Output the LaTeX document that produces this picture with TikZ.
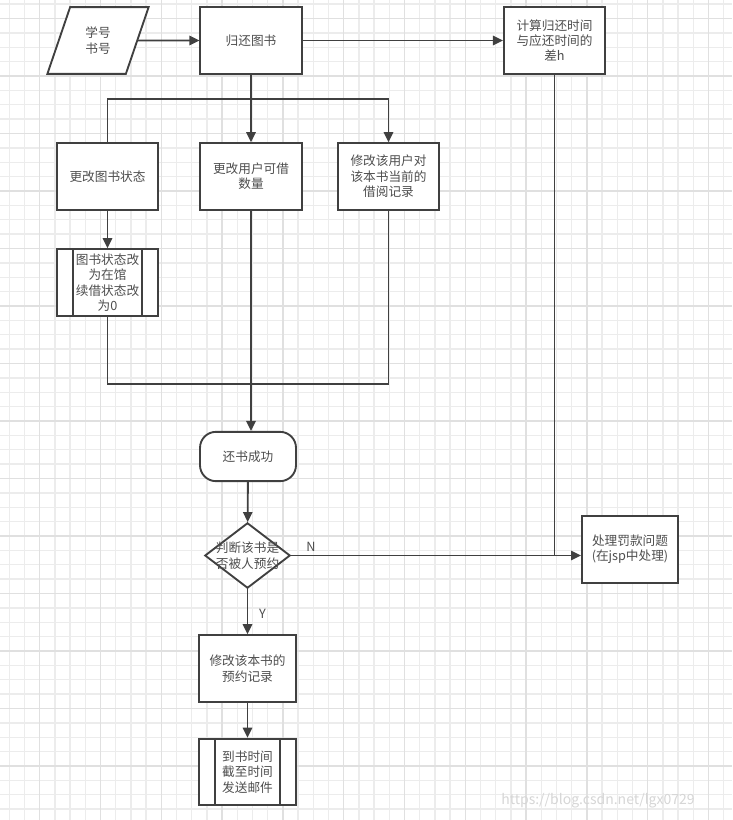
\documentclass[tikz,border=0pt]{standalone}
\usepackage{fontspec}
\setsansfont{Noto Sans CJK SC}
\usepackage{xcolor}
\definecolor{linegray}{HTML}{404040}
\definecolor{textgray}{HTML}{4E4E4E}
\definecolor{gridminor}{HTML}{ECECEC}
\definecolor{gridmajor}{HTML}{E0E0E0}
\definecolor{markgray}{HTML}{D6D6D6}
\usepackage{tikz}
\usetikzlibrary{arrows.meta, shapes.geometric, positioning, calc}

\begin{document}
\begin{tikzpicture}[x=0.75pt, y=-0.75pt, >={Triangle[length=7.5pt,width=7pt]},
  font=\sffamily\fontsize{9.5}{11.5}\selectfont,
  flow/.style={draw=linegray, line width=1.4pt, fill=white, text=textgray,
               align=center, inner sep=1pt},
  procbox/.style={flow, rectangle, minimum width=76pt, minimum height=50pt},
  iobox/.style={flow, trapezium, trapezium left angle=69, trapezium right angle=111,
                trapezium stretches=true, minimum width=76pt, minimum height=50pt},
  subproc/.style={procbox, path picture={
      \draw[linegray, line width=1.4pt]
        ([xshift=12pt]path picture bounding box.north west) -- ([xshift=12pt]path picture bounding box.south west)
        ([xshift=-12pt]path picture bounding box.north east) -- ([xshift=-12pt]path picture bounding box.south east);}},
  endbox/.style={flow, rectangle, rounded corners=12pt, minimum width=72pt, minimum height=37pt},
  decide/.style={flow, diamond, inner sep=0pt, minimum width=64pt, minimum height=49pt},
  link/.style={draw=linegray, line width=1.4pt}]

  \useasboundingbox (0,0) rectangle (732,820);
  \fill[white] (0,0) rectangle (732,820);

  % grid paper
  \foreach \k in {0,...,47} {
    \draw[gridminor, line width=1pt] ({9.3+15.2*\k},0) -- ({9.3+15.2*\k},820);
  }
  \foreach \k in {0,...,56} {
    \draw[gridminor, line width=1pt] (0,{4.1+14.375*\k}) -- (732,{4.1+14.375*\k});
  }
  \foreach \k in {0,...,11} {
    \draw[gridmajor, line width=1pt] ({39.7+60.8*\k},0) -- ({39.7+60.8*\k},820);
  }
  \foreach \k in {0,...,14} {
    \draw[gridmajor, line width=1pt] (0,{18.5+57.5*\k}) -- (732,{18.5+57.5*\k});
  }

  % nodes
  \node[iobox] (input) at (98,40.5) {学号\\书号};
  \node[procbox] (back) at (251,40.5) {归还图书};
  \node[procbox] (calc) at (554.5,40.5) {计算归还时间\\与应还时间的\\差h};

  \node[procbox] (state) at (107.5,176.5) {更改图书状态};
  \node[procbox] (count) at (251,176.5) {更改用户可借\\数量};
  \node[procbox] (record) at (388.5,176.5) {修改该用户对\\该本书当前的\\借阅记录};

  \node[subproc] (stsub) at (107.5,282.5) {图书状态改\\为在馆\\续借状态改\\为0};

  \node[endbox] (done) at (248,456.5) {还书成功};
  \node[decide, label={[text=textgray, align=center]center:判断该书是\\否被人预约}]
        (judge) at (247.5,555.5) {};
  \node[procbox, minimum width=72pt] (fine) at (630,549.5) {处理罚款问题\\(在jsp中处理)};

  \node[procbox, minimum width=73pt] (resv) at (247.5,668.5) {修改该本书的\\预约记录};
  \node[subproc, minimum width=73pt] (mail) at (247.5,772) {到书时间\\截至时间\\发送邮件};

  \node[text=markgray, font=\sffamily\fontsize{10.5}{12}\selectfont]
        (mark) at (598,801) {https://blog.csdn.net/lgx0729};

  % connectors
  \coordinate (split) at (251,99);
  \coordinate (merge) at (251,384);

  \draw[link, ->] (input) -- (back);
  \draw[link, ->] (back) -- (calc);
  \draw[link, ->] (back) -- (count);
  \draw[link, ->] (state.north) |- (split) -| (record.north);
  \draw[link, ->] (state) -- (stsub);
  \draw[link] (stsub.south) |- (merge) -| (record.south);
  \draw[link, ->] (count.south) -- (count.south |- done.north);
  \draw[link, ->] (done) -- (judge);
  \draw[link, ->] (judge.east) -- node[pos=0.04, above right, text=textgray, inner sep=2pt]{N}
        (judge.east -| fine.west);
  \draw[link] (calc.south) -- (calc.south |- judge.east);
  \draw[link, ->] (judge.south) -- node[pos=0.55, right, text=textgray, inner sep=2pt, xshift=6pt]{Y}
        (judge.south |- resv.north);
  \draw[link, ->] (resv) -- (mail);
\end{tikzpicture}
\end{document}
